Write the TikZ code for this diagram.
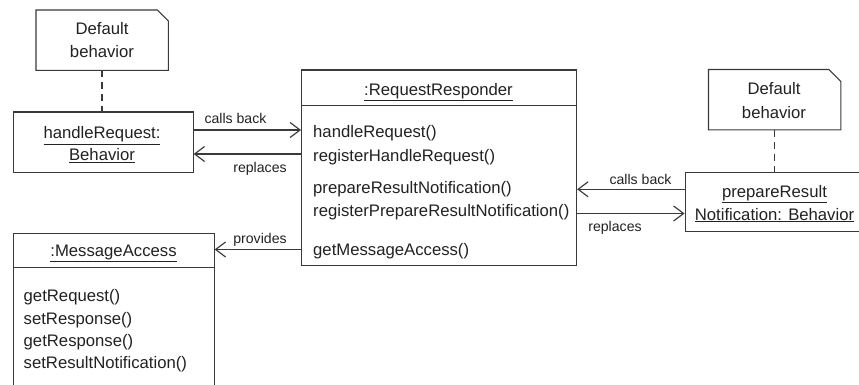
\documentclass[tikz,border=0pt]{standalone}
\usepackage{fontspec}
\setmainfont{Liberation Sans}
\usetikzlibrary{arrows.meta}
\definecolor{ink}{HTML}{222222}
\definecolor{edge}{HTML}{3A3A3A}
\tikzset{
  box/.style={draw=edge, line width=1.15pt, inner sep=0pt, anchor=north west},
  txt/.style={inner sep=0pt, text=ink, font=\fontsize{16.7}{20}\selectfont},
  lbl/.style={inner sep=0pt, text=ink, font=\fontsize{14.1}{17}\selectfont},
  arr/.style={draw=edge, line width=1.15pt, -{Straight Barb[length=10pt,width=15pt,line width=1.15pt]}},
  anchorline/.style={draw=edge, line width=1.15pt, dash pattern=on 7pt off 5pt},
  notebox/.style={draw=edge, line width=1.15pt},
}
\newcommand{\ul}[1]{\underline{#1}}
\begin{document}
\begin{tikzpicture}[x=1pt,y=-1pt]
\path[use as bounding box, clip] (0,0) rectangle (859,385);
\fill[white] (0,0) rectangle (859,385);

% ---- left note and its object ----
\node[inner sep=0pt, minimum width=132pt, minimum height=60pt, anchor=north west] (n1) at (36,10) {};
\draw[notebox] (n1.north west) -- ([xshift=-11pt]n1.north east) -- ([yshift=-11pt]n1.north east) -- (n1.south east) -- (n1.south west) -- cycle;
\node[txt, anchor=base] at (102,34.5) {Default};
\node[txt, anchor=base] at (102,58) {behavior};

\node[box, minimum width=180pt, minimum height=60pt] (hr) at (12.5,111.5) {};
\node[txt, anchor=base] at (102,139) {\ul{handleRequest:}};
\node[txt, anchor=base] at (102,160.5) {\ul{Behavior}};
\draw[anchorline] (n1.south -| 102,0) -- (hr.north -| 102,0);

% ---- central object ----
\node[box, minimum width=275pt, minimum height=195pt] (rr) at (301,69.5) {};
\draw[draw=edge, line width=1.15pt] (rr.west |- 0,105.7) -- (rr.east |- 0,105.7);
\node[txt, anchor=base] at (438.5,95.5) {\ul{:RequestResponder}};
\node[txt, anchor=base west] at (313,137.5) {handleRequest()};
\node[txt, anchor=base west] at (313,161) {registerHandleRequest()};
\node[txt, anchor=base west] at (313,193) {prepareResultNotification()};
\node[txt, anchor=base west] at (313,216.5) {registerPrepareResultNotification()};
\node[txt, anchor=base west] at (313,255) {getMessageAccess()};

% ---- right note and its object ----
\node[inner sep=0pt, minimum width=132pt, minimum height=60pt, anchor=north west] (n2) at (708.5,69.5) {};
\draw[notebox] (n2.north west) -- ([xshift=-12pt]n2.north east) -- ([yshift=-12pt]n2.north east) -- (n2.south east) -- (n2.south west) -- cycle;
\node[txt, anchor=base] at (774,94.5) {Default};
\node[txt, anchor=base] at (774,118.5) {behavior};

\node[box, minimum width=182pt, minimum height=59.5pt] (pr) at (684.5,171.7) {};
\node[txt, anchor=base] at (774.5,197.5) {\ul{prepareResult}};
\node[txt, anchor=base] at (774.5,220) {\ul{Notification: Behavior}};
\draw[anchorline] (n2.south -| 774.3,0) -- (pr.north -| 774.3,0);

% ---- message access object ----
\node[box, minimum width=201pt, minimum height=170pt] (ma) at (12.5,232.5) {};
\draw[draw=edge, line width=1.15pt] (ma.west |- 0,267.7) -- (ma.east |- 0,267.7);
\node[txt, anchor=base] at (113.5,256) {\ul{:MessageAccess}};
\node[txt, anchor=base west] at (23.5,301.5) {getRequest()};
\node[txt, anchor=base west] at (23.5,324) {setResponse()};
\node[txt, anchor=base west] at (23.5,346.3) {getResponse()};
\node[txt, anchor=base west] at (23.5,368.5) {setResultNotification()};

% ---- connectors ----
\draw[arr] (hr.east |- 0,130) -- (rr.west |- 0,130);
\node[lbl, anchor=base] at (235.5,123.5) {calls back};
\draw[arr] (rr.west |- 0,154) -- (hr.east |- 0,154);
\node[lbl, anchor=base] at (260,172) {replaces};

\draw[arr] (pr.west |- 0,189.3) -- (rr.east |- 0,189.3);
\node[lbl, anchor=base] at (640.5,184) {calls back};
\draw[arr] (rr.east |- 0,213.5) -- (pr.west |- 0,213.5);
\node[lbl, anchor=base] at (615,231.5) {replaces};

\draw[arr] (rr.west |- 0,249.5) -- (ma.east |- 0,249.5);
\node[lbl, anchor=base] at (260,243.5) {provides};
\end{tikzpicture}
\end{document}
